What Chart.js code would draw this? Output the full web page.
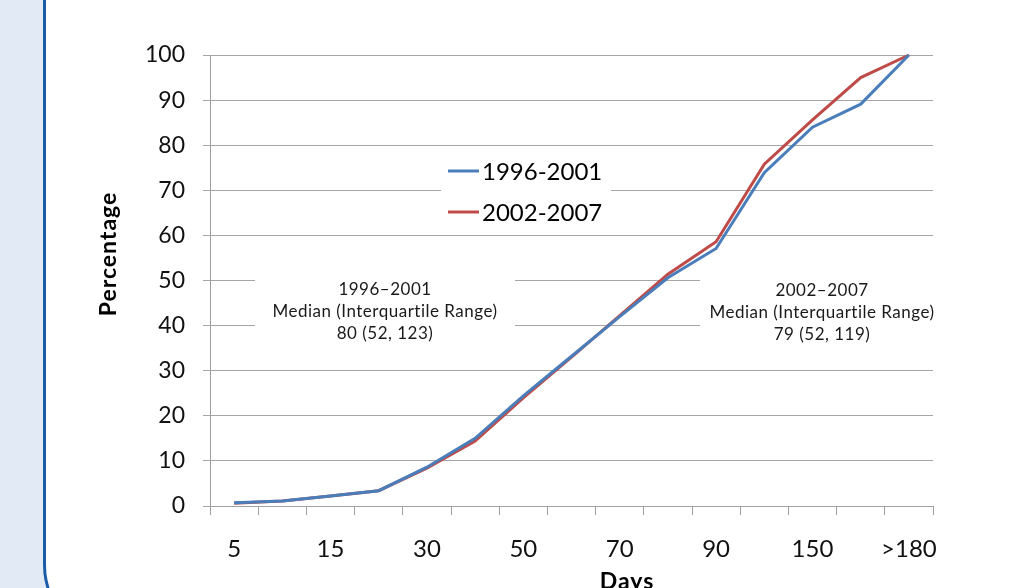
<!DOCTYPE html>
<html><head><meta charset="utf-8">
<script src="https://cdn.jsdelivr.net/npm/chart.js@4.4.1/dist/chart.umd.min.js"></script>
<style>
html,body{margin:0;padding:0;width:1025px;height:588px;overflow:hidden;background:#e2ebf5;}
#panel{position:absolute;left:43px;top:-40px;width:1100px;height:685px;background:#fff;border-left:3px solid #1a5ca8;border-bottom:3px solid #1a5ca8;border-radius:0 0 0 80px;box-sizing:border-box;}
#wrap{position:absolute;left:0;top:0;width:1025px;height:588px;}
</style></head><body>
<div id="panel"></div>
<div id="wrap"><canvas id="c" width="1025" height="588"></canvas></div>
<script>
const categories = ['5','10','15','20','30','40','50','60','70','80','90','120','150','180','>180'];
const shownLabels = ['5','15','30','50','70','90','150','>180'];
const series1996 = [0.7,1.1,2.2,3.4,8.6,15.0,24.4,33.2,42.0,50.6,57.1,73.9,84.0,89.1,100];
const series2002 = [0.6,1.1,2.2,3.4,8.4,14.4,24.0,33.0,42.2,51.4,58.6,75.8,85.6,95.0,100];
const seriesNames = ['1996-2001','2002-2007'];
const seriesColors = ['#4a7ebb','#be4b48'];
const noteLeft = ['1996\u20132001','Median (Interquartile Range)','80 (52, 123)'];
const noteRight = ['2002\u20132007','Median (Interquartile Range)','79 (52, 119)'];
const yAxisTitle = 'Percentage';
const xAxisTitle = 'Days';

const overlay = {
  id: 'overlay',
  beforeDatasetsDraw(chart) {
    const ctx = chart.ctx;
    ctx.save();
    ctx.fillStyle = '#ffffff';
    ctx.fillRect(441, 150, 170, 82);
    ctx.fillRect(255, 268, 260, 80);
    ctx.fillRect(700, 268, 240, 80);
    ctx.fillStyle = '#1a1a1a';
    ctx.font = '17px Lato';
    ctx.letterSpacing = '0.5px';
    ctx.textAlign = 'center';
    ctx.textBaseline = 'middle';
    const ys = [290, 312, 334];
    noteLeft.forEach((t, i) => ctx.fillText(t, 385, ys[i]));
    noteRight.forEach((t, i) => ctx.fillText(t, 822, ys[i] + 1));
    ctx.restore();
  },
  afterDatasetsDraw(chart) {
    const ctx = chart.ctx;
    ctx.save();
    const ly = [171, 212];
    chart.data.datasets.forEach((ds, i) => {
      ctx.strokeStyle = ds.borderColor;
      ctx.lineWidth = 3;
      ctx.beginPath();
      ctx.moveTo(448, ly[i]);
      ctx.lineTo(479, ly[i]);
      ctx.stroke();
      ctx.fillStyle = '#000';
      ctx.font = '24px Lato';
      ctx.textAlign = 'left';
      ctx.textBaseline = 'middle';
      ctx.fillText(ds.label, 482, ly[i] + 1);
    });
    ctx.fillStyle = '#000';
    ctx.font = 'bold 23px Lato';
    ctx.letterSpacing = '1px';
    ctx.textAlign = 'center';
    ctx.textBaseline = 'alphabetic';
    ctx.fillText(xAxisTitle, 627, 589);
    ctx.translate(116, 254);
    ctx.rotate(-Math.PI / 2);
    ctx.fillText(yAxisTitle, 0, 0);
    ctx.restore();
  }
};

new Chart(document.getElementById('c'), {
  type: 'line',
  data: {
    labels: categories,
    datasets: [
      { label: seriesNames[0], data: series1996, borderColor: seriesColors[0], backgroundColor: seriesColors[0], borderWidth: 3, pointRadius: 0, tension: 0, clip: 6 },
      { label: seriesNames[1], data: series2002, borderColor: seriesColors[1], backgroundColor: seriesColors[1], borderWidth: 3, pointRadius: 0, tension: 0, clip: 6 }
    ]
  },
  options: {
    responsive: false,
    animation: false,
    devicePixelRatio: 1,
    layout: { padding: { left: 0, right: 92, top: 55, bottom: 0 } },
    plugins: { legend: { display: false }, tooltip: { enabled: false } },
    scales: {
      x: {
        offset: true,
        grid: { offset: true, drawOnChartArea: false, drawTicks: true, tickLength: 9, color: '#a0a0a0' },
        border: { display: true, color: '#a0a0a0' },
        ticks: {
          autoSkip: false, maxRotation: 0, padding: 20, color: '#111',
          font: { family: 'Lato', size: 24 },
          callback: function (v, i) { const l = categories[i]; return shownLabels.includes(l) ? l : ''; }
        },
        afterFit(s) { s.height = 82; }
      },
      y: {
        min: 0, max: 100,
        grid: { color: '#a6a6a6', tickLength: 7, lineWidth: 1 },
        border: { display: true, color: '#a0a0a0' },
        ticks: { stepSize: 10, padding: 18, color: '#111', font: { family: 'Lato', size: 23 } },
        afterFit(s) { s.width = 210; }
      }
    }
  },
  plugins: [overlay]
});
</script>
</body></html>
